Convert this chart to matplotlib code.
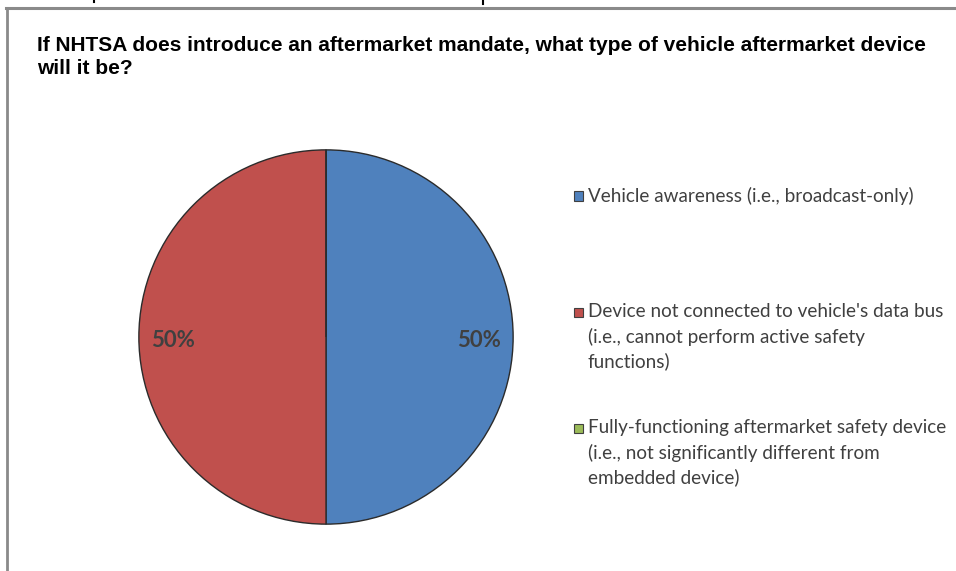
import matplotlib
matplotlib.use("Agg")
import matplotlib.pyplot as plt
from matplotlib.patches import Rectangle
from matplotlib.lines import Line2D

W, H = 956, 571

title_lines = ["If NHTSA does introduce an aftermarket mandate, what type of vehicle aftermarket device",
               "will it be?"]
categories = ["Vehicle awareness (i.e., broadcast-only)",
              "Device not connected to vehicle's data bus\n(i.e., cannot perform active safety\nfunctions)",
              "Fully-functioning aftermarket safety device\n(i.e., not significantly different from\nembedded device)"]
values = [50, 50, 0]
colors = ["#4F81BD", "#C0504D", "#9BBB59"]

fig = plt.figure(figsize=(W / 100, H / 100), dpi=100)
fig.patch.set_facecolor("white")

def fx(x):
    return x / W

def fy(y):
    return 1 - y / H

# frame lines
fig.add_artist(Line2D([fx(6), fx(W)], [fy(8), fy(8)], color="#8a8a8a", lw=2.2, transform=fig.transFigure))
fig.add_artist(Line2D([fx(6.5), fx(6.5)], [fy(8), fy(H)], color="#8a8a8a", lw=2.0, transform=fig.transFigure))
fig.add_artist(Line2D([fx(483), fx(483)], [fy(0), fy(3.5)], color="black", lw=1.5, transform=fig.transFigure))
fig.add_artist(Line2D([fx(94), fx(94)], [fy(0), fy(2)], color="black", lw=1.5, transform=fig.transFigure))

# title
for i, t in enumerate(title_lines):
    fig.text(fx(37), fy(45.5 + 23 * i), t, fontsize=15, fontweight="bold",
             family="Liberation Sans", color="black", va="center", ha="left")

# pie
cx, cy, r = 326, 337, 189
ax = fig.add_axes([fx(cx - r), fy(cy + r), (2 * r) / W, (2 * r) / H])
wedges, _, autotexts = ax.pie(values, colors=colors, startangle=90, counterclock=False,
                              radius=1, pctdistance=0.82,
                              autopct=lambda p: f"{p:.0f}%" if p > 0 else "",
                              wedgeprops=dict(edgecolor="#2b2b2b", linewidth=1.0),
                              textprops=dict(fontsize=16, fontweight="bold", color="#404040", family="Lato"))
for t in autotexts:
    x0, y0 = t.get_position()
    t.set_position((x0, y0 - 0.02))
ax.set_xlim(-1.01, 1.01)
ax.set_ylim(-1.01, 1.01)
ax.set_aspect("equal")
ax.axis("off")

# legend (manual)
entry_y = [196, 312, 428]
line_h = 24.5
for yy, lab, col in zip(entry_y, categories, colors):
    fig.add_artist(Rectangle((fx(574), fy(yy + 4.5)), 9 / W, 9 / H, facecolor=col,
                             edgecolor="#404040", linewidth=0.8, transform=fig.transFigure))
    for k, ln in enumerate(lab.split("\n")):
        fig.text(fx(588), fy(yy + k * line_h), ln, fontsize=13.6, family="Lato",
                 color="#404040", va="center", ha="left")

fig.savefig("out.png", dpi=100)
